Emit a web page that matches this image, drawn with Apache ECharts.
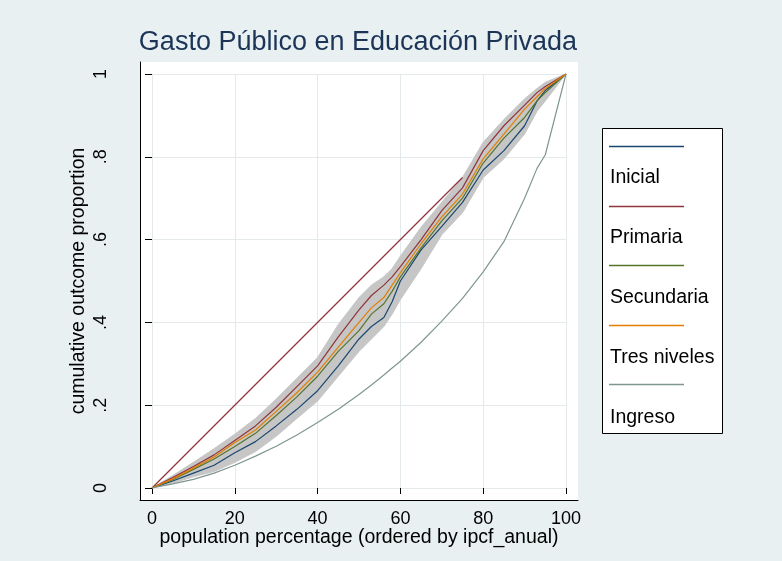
<!DOCTYPE html>
<html><head><meta charset="utf-8">
<script src="https://cdn.jsdelivr.net/npm/echarts@6/dist/echarts.min.js"></script>
<style>html,body{margin:0;padding:0;background:#e8f0f2}#c{width:782px;height:561px}</style>
</head><body><div id="c"></div>
<script>
// ---- data ----
const xPct        = [0, 5, 10, 15, 20, 25, 30, 35, 40, 45, 50, 53, 56, 58, 60, 65, 70, 75, 80, 85, 90, 93, 95, 100];
const inicial     = [0, .017, .036, .055, .085, .112, .15, .19, .235, .295, .36, .39, .412, .45, .50, .575, .632, .69, .768, .815, .875, .935, .96, 1];
const primaria    = [0, .025, .052, .08, .115, .15, .195, .245, .295, .365, .43, .465, .49, .51, .535, .60, .67, .725, .815, .875, .925, .955, .97, 1];
const secundaria  = [0, .02, .045, .07, .10, .132, .175, .22, .27, .33, .38, .42, .445, .475, .51, .58, .645, .70, .785, .845, .895, .935, .955, 1];
const tresNiveles = [0, .022, .048, .075, .11, .14, .185, .23, .28, .34, .40, .435, .46, .49, .52, .59, .655, .71, .795, .855, .915, .945, .965, 1];
const ingreso     = [0, .010, .021, .036, .055, .077, .101, .128, .158, .19, .226, .249, .273, .29, .306, .352, .403, .458, .522, .595, .70, .772, .805, 1];
const bandUpper   = [0, .03, .062, .095, .13, .168, .215, .265, .315, .395, .46, .49, .51, .53, .56, .63, .69, .75, .835, .89, .94, .965, .98, 1];
const bandLower   = [0, .012, .027, .04, .062, .088, .125, .168, .21, .27, .33, .36, .39, .42, .455, .53, .612, .665, .75, .795, .855, .91, .935, 1];
const diagX       = [0, 75];
const diagY       = [0, 0.75];
const seriesNames  = ['Inicial', 'Primaria', 'Secundaria', 'Tres niveles', 'Ingreso'];
const seriesValues = [inicial, primaria, secundaria, tresNiveles, ingreso];
const seriesColors = ['#1a476f', '#90353b', '#55752f', '#e37e00', '#7f9691'];
const yTickLabels  = ['0', '.2', '.4', '.6', '.8', '1'];
const titleText = 'Gasto Público en Educación Privada';
const xTitle = 'population percentage (ordered by ipcf_anual)';
const yTitle = 'cumulative outcome proportion';

// ---- build ----
const FONT = "'Liberation Sans', Arial, sans-serif";
const zip = (xs, ys) => xs.map((x, i) => [x, ys[i]]);
const series = [
  { type: 'custom', name: 'band', xAxisIndex: 1, yAxisIndex: 1, silent: true, z: 1,
    data: xPct.map((x, i) => [x, bandLower[i], bandUpper[i]]),
    encode: { x: 0, y: [1, 2] },
    renderItem: (params, api) => {
      if (params.dataIndex !== 0) return { type: 'group', children: [] };
      const up = xPct.map((x, i) => api.coord([x, bandUpper[i]]));
      const lo = xPct.map((x, i) => api.coord([x, bandLower[i]])).reverse();
      return { type: 'polygon', shape: { points: up.concat(lo) },
        style: { fill: '#c6c6c6', stroke: '#c6c6c6', lineWidth: 1 } };
    } },
  { type: 'line', name: 'diag', xAxisIndex: 1, yAxisIndex: 1, symbol: 'none', silent: true, z: 2,
    lineStyle: { width: 1.2, color: seriesColors[1] }, data: zip(diagX, diagY) }
];
seriesNames.forEach((n, i) => series.push({
  type: 'line', name: n, xAxisIndex: 1, yAxisIndex: 1, symbol: 'none', silent: true, z: 3,
  lineStyle: { width: 1.2, color: seriesColors[i] }, itemStyle: { color: seriesColors[i] },
  data: zip(xPct, seriesValues[i])
}));

const legendEls = [{ type: 'rect', shape: { x: 602.5, y: 128.5, width: 120, height: 305 },
  style: { fill: '#fff', stroke: '#000', lineWidth: 1 }, z: 10 }];
seriesNames.forEach((n, i) => {
  const ly = Math.round(146 + i * 59.6) + 0.5;
  legendEls.push({ type: 'line', shape: { x1: 609, y1: ly, x2: 684, y2: ly },
    style: { stroke: seriesColors[i], lineWidth: 1.3 }, z: 11 });
  legendEls.push({ type: 'text', x: 610, y: 178 + i * 60,
    style: { text: n, fontSize: 19.5, fontFamily: FONT, fill: '#000', verticalAlign: 'middle', align: 'left' }, z: 11 });
});

const chart = echarts.init(document.getElementById('c'), null, { renderer: 'canvas' });
chart.setOption({
  animation: false,
  backgroundColor: '#e8f0f2',
  textStyle: { fontFamily: FONT },
  title: { text: titleText, left: 358, top: 29, padding: 0, textAlign: 'center',
    textStyle: { fontSize: 27, fontWeight: 'normal', color: '#1c3557', fontFamily: FONT } },
  grid: [
    { left: 140, top: 62, width: 438, height: 438, show: true, backgroundColor: '#ffffff', borderWidth: 0 },
    { left: 152, top: 74, width: 414, height: 414, show: false }
  ],
  xAxis: [
    { gridIndex: 0, type: 'value', min: 0, max: 1, axisLine: { show: true, lineStyle: { color: '#000', width: 1 } },
      axisTick: { show: false }, axisLabel: { show: false }, splitLine: { show: false } },
    { gridIndex: 1, type: 'value', min: 0, max: 100, interval: 20, offset: 12,
      axisLine: { show: false }, axisTick: { show: true, length: 6, lineStyle: { color: '#000' } },
      axisLabel: { fontSize: 18, color: '#000', margin: 10 },
      splitLine: { show: true, lineStyle: { color: '#e4eaec', width: 1 } },
      name: xTitle, nameLocation: 'middle', nameGap: 28, nameMoveOverlap: false,
      nameTextStyle: { fontSize: 19.5, color: '#000' } }
  ],
  yAxis: [
    { gridIndex: 0, type: 'value', min: 0, max: 1, offset: 18, axisLine: { show: true, lineStyle: { color: '#000', width: 1 } },
      axisTick: { show: false }, axisLabel: { show: false }, splitLine: { show: false } },
    { gridIndex: 1, type: 'value', min: 0, max: 1, interval: 0.2, offset: 30,
      axisLine: { show: false }, axisTick: { show: true, length: 7, lineStyle: { color: '#000' } },
      axisLabel: { fontSize: 18, color: '#000', rotate: 90, margin: 12,
        formatter: v => yTickLabels[Math.round(v * 5)] },
      splitLine: { show: true, lineStyle: { color: '#e4eaec', width: 1 } },
      name: yTitle, nameLocation: 'middle', nameRotate: 90, nameGap: 33, nameMoveOverlap: false,
      nameTextStyle: { fontSize: 19.5, color: '#000' } }
  ],
  graphic: legendEls,
  series: series
});
</script></body></html>
